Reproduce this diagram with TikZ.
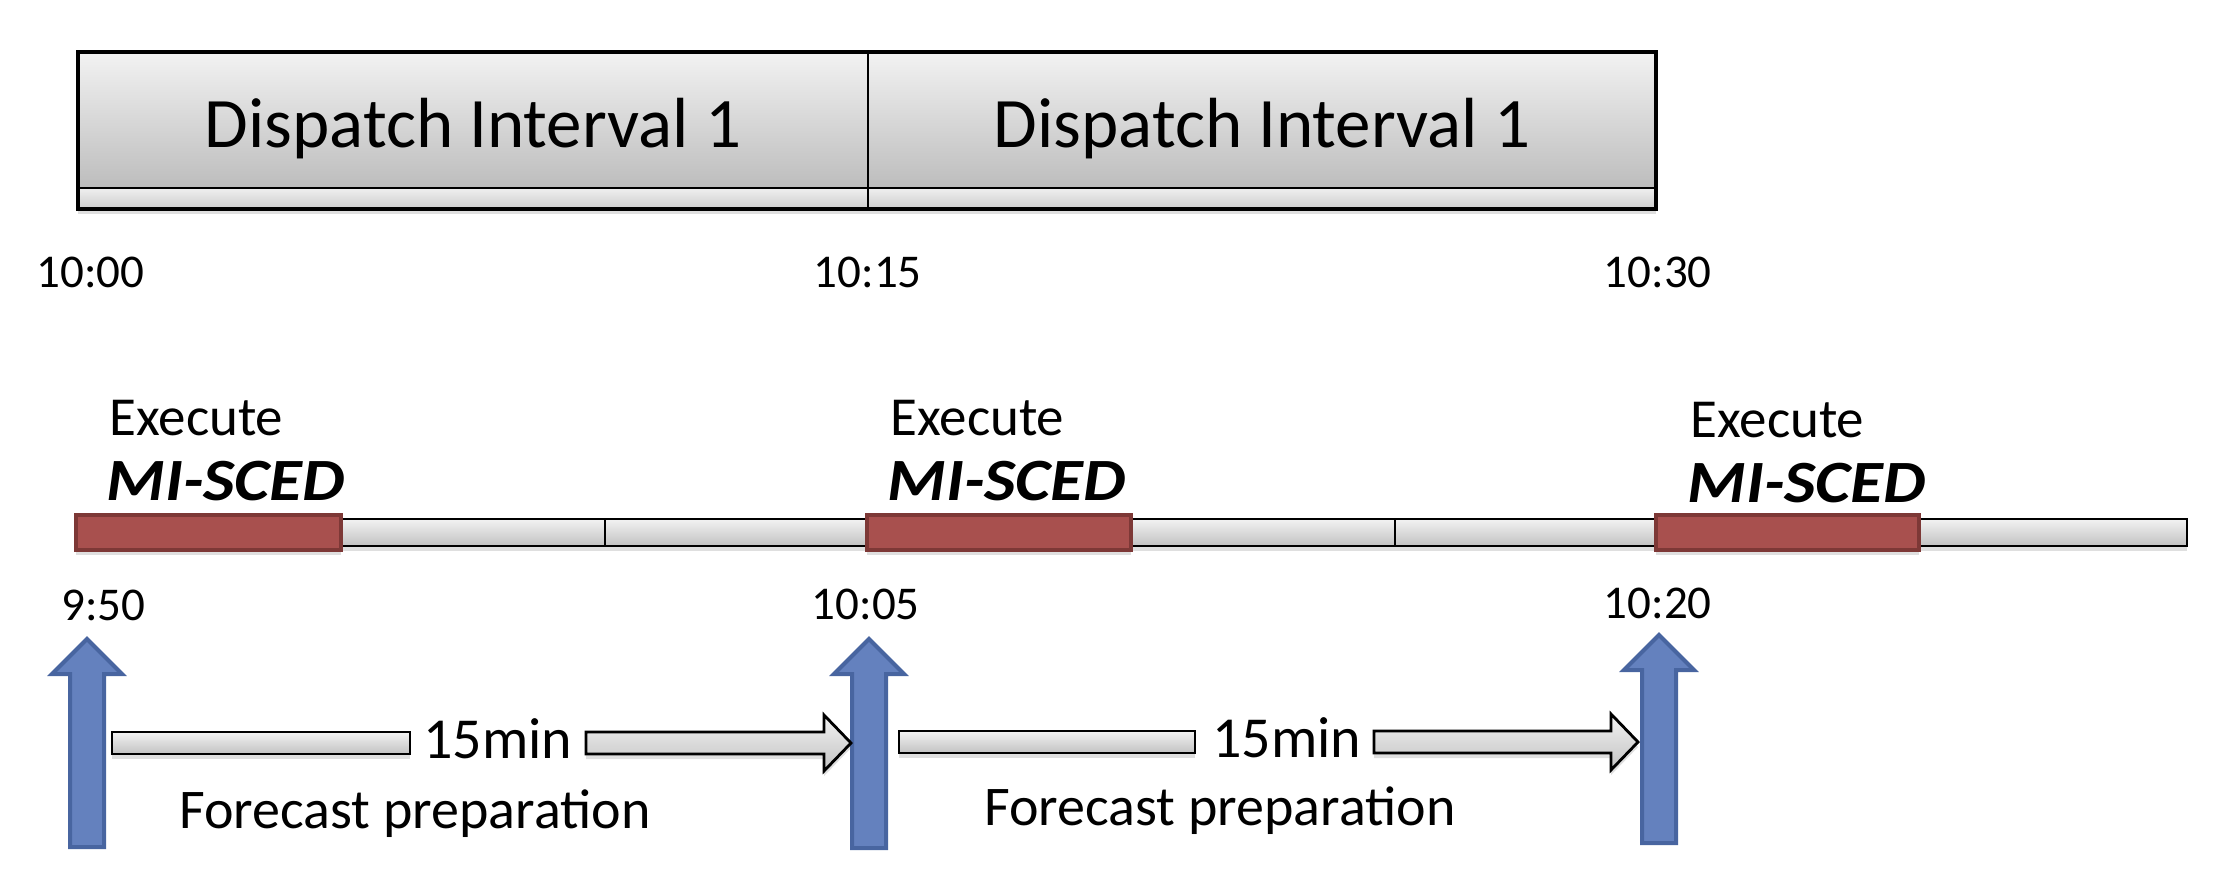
\documentclass[tikz,border=0pt]{standalone}
\usepackage{fontspec}
\setmainfont{Carlito}
\usetikzlibrary{shadows}
\definecolor{redfill}{RGB}{168,80,78}
\definecolor{redline}{RGB}{125,56,54}
\definecolor{bluefill}{RGB}{100,129,190}
\definecolor{blueline}{RGB}{72,101,160}
\tikzset{
  greyfill/.style={top color=black!5, bottom color=black!24, draw=black, line width=1.4pt},
  shade/.style={drop shadow={opacity=0.25, shadow xshift=0pt, shadow yshift=-2.5pt}},
  redseg/.style={fill=redfill, draw=redline, line width=1.8pt},
  bluearrow/.style={fill=bluefill, draw=blueline, line width=2pt, line join=miter},
  big/.style={font=\fontsize{35.5}{42}\selectfont, inner sep=0pt},
  tlabel/.style={font=\fontsize{23.5}{28}\selectfont, inner sep=0pt, anchor=base east},
  mlabel/.style={font=\fontsize{27.5}{32}\selectfont, inner sep=0pt},
  flabel/.style={font=\fontsize{28}{32}\selectfont, inner sep=0pt},
  minlabel/.style={font=\fontsize{29}{34}\selectfont, inner sep=0pt},
  mbold/.style={font=\fontsize{30}{34}\selectfont\bfseries\itshape, inner sep=0pt},
}
\newcommand{\wide}[1]{\scalebox{1.12}[1]{#1}}
\begin{document}
\begin{tikzpicture}[x=0.5pt, y=-0.5pt]
\useasboundingbox (0,0) rectangle (2216,875);

% top dispatch box
\path[shade, fill=white] (78,52) rectangle (1656,209);
\path[top color=black!5, bottom color=black!26] (78,52) rectangle (1656,188);
\path[top color=black!6, bottom color=black!20] (78,188) rectangle (1656,209);
\draw[line width=1.6pt] (78,52) rectangle (1656,209);
\draw[line width=1.2pt] (78,188) -- (1656,188);
\draw[line width=1.2pt] (868,52) -- (868,209);
\node[big, anchor=base] (d1) at (473,147) {Dispatch Interval 1};
\node[big, anchor=base] (d2) at (1262,147) {Dispatch Interval 1};

% upper time labels
\node[tlabel] (t1000) at (145,287) {10:00};
\node[tlabel] (t1015) at (922,287) {10:15};
\node[tlabel] (t1030) at (1712,287) {10:30};

% execute labels
\node[mlabel, anchor=base west] (e1) at (109,435) {Execute};
\node[mbold, anchor=base west] (s1) at (106,500) {\wide{MI-SCED}};
\node[mlabel, anchor=base west] (e2) at (890,435) {Execute};
\node[mbold, anchor=base west] (s2) at (887,500) {\wide{MI-SCED}};
\node[mlabel, anchor=base west] (e3) at (1690,437) {Execute};
\node[mbold, anchor=base west] (s3) at (1687,502) {\wide{MI-SCED}};

% timeline bar
\path[greyfill, shade] (341,519) rectangle (605,546);
\path[greyfill, shade] (605,519) rectangle (867,546);
\path[greyfill, shade] (1131,519) rectangle (1395,546);
\path[greyfill, shade] (1395,519) rectangle (1656,546);
\path[greyfill, shade] (1919,519) rectangle (2187,546);
\path[redseg, shade] (76,515) rectangle (341,550);
\path[redseg, shade] (867,515) rectangle (1131,550);
\path[redseg, shade] (1656,515) rectangle (1919,550);

% lower time labels
\node[tlabel] (t950) at (146,620) {9:50};
\node[tlabel] (t1005) at (920,619) {10:05};
\node[tlabel] (t1020) at (1712,618) {10:20};

% blue arrows
\path[bluearrow] (70,847) -- (70,674) -- (52,674) -- (87,639) -- (122,674) -- (104,674) -- (104,847) -- cycle;
\path[bluearrow] (852,848) -- (852,674) -- (834,674) -- (869,639) -- (904,674) -- (886,674) -- (886,848) -- cycle;
\path[bluearrow] (1642,843) -- (1642,670) -- (1624,670) -- (1659,635) -- (1694,670) -- (1676,670) -- (1676,843) -- cycle;

% grey forecast arrows
\path[greyfill, shade] (112,732) rectangle (410,754);
\path[greyfill, shade] (586,732) -- (824,732) -- (824,715) -- (851,743) -- (824,771) -- (824,754) -- (586,754) -- cycle;
\node[minlabel, anchor=base] (m1) at (498,758) {15min};
\node[flabel, anchor=base] (f1) at (415,828) {Forecast preparation};

\path[greyfill, shade] (899,731) rectangle (1195,753);
\path[greyfill, shade] (1374,731) -- (1611,731) -- (1611,714) -- (1638,742) -- (1611,770) -- (1611,753) -- (1374,753) -- cycle;
\node[minlabel, anchor=base] (m2) at (1287,757) {15min};
\node[flabel, anchor=base] (f2) at (1220,825) {Forecast preparation};
\end{tikzpicture}
\end{document}
